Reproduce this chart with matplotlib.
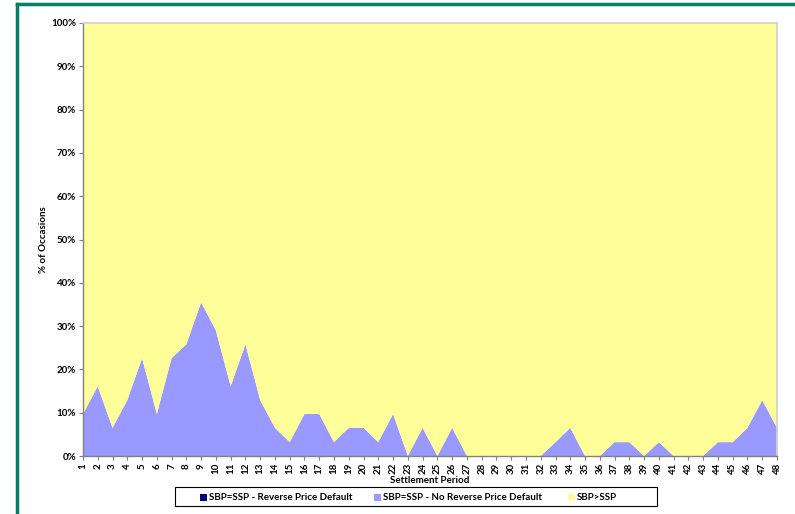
import matplotlib
matplotlib.use("Agg")
import matplotlib.pyplot as plt
from matplotlib.patches import Rectangle
from matplotlib.lines import Line2D
import numpy as np

periods = list(range(1, 49))
# Percentage of occasions per settlement period
reverse_default = [0.0] * 48
no_reverse_default = [
    9.7, 16.1, 6.5, 12.9, 22.6, 9.7, 22.6, 25.8, 35.5, 29.0,
    16.1, 25.8, 12.9, 6.5, 3.2, 9.7, 9.7, 3.2, 6.5, 6.5,
    3.2, 9.7, 0.0, 6.5, 0.0, 6.5, 0.0, 0.0, 0.0, 0.0,
    0.0, 0.0, 3.2, 6.5, 0.0, 0.0, 3.2, 3.2, 0.0, 3.2,
    0.0, 0.0, 0.0, 3.2, 3.2, 6.5, 12.9, 6.5,
]
sbp_gt_ssp = [100.0 - a - b for a, b in zip(reverse_default, no_reverse_default)]

series_names = ["SBP=SSP - Reverse Price Default",
                "SBP=SSP - No Reverse Price Default",
                "SBP>SSP"]
colors = ["#000080", "#9999ff", "#ffff99"]

plt.rcParams['font.family'] = ['Lato', 'DejaVu Sans']

fig = plt.figure(figsize=(7.95, 5.14), dpi=100)
W, H = 795, 514
ax = fig.add_axes([83 / W, 1 - 456 / H, (777 - 83) / W, (456 - 23) / H])

ax.stackplot(periods, reverse_default, no_reverse_default, sbp_gt_ssp,
             colors=colors, linewidth=0)

ax.set_xlim(1, 48)
ax.set_ylim(0, 100)
ax.set_xticks(periods)
ax.set_xticklabels([str(p) for p in periods], rotation=90, fontsize=7, fontweight='bold')
ax.set_yticks(np.arange(0, 101, 10))
ax.set_yticklabels([f"{v}%" for v in range(0, 101, 10)], fontsize=7, fontweight='bold')
ax.tick_params(axis='both', length=3, width=0.8, color='#808080', pad=2)

for side in ['left', 'bottom']:
    ax.spines[side].set_color('#808080')
    ax.spines[side].set_linewidth(1)
for side in ['top', 'right']:
    ax.spines[side].set_color('#d0d0d0')
    ax.spines[side].set_linewidth(1.2)

ax.set_xlabel("Settlement Period", fontsize=7, fontweight='bold', labelpad=1)
ax.set_ylabel("% of Occasions", fontsize=7, fontweight='bold', labelpad=2)

# Legend: boxed strip below the x-axis title
fig.add_artist(Rectangle((175 / W, 1 - 506 / H), (657 - 175) / W, 19 / H,
                         transform=fig.transFigure, facecolor='white',
                         edgecolor='black', linewidth=0.8))
marker_x = [203, 377, 571]
ly = 497
for mx, name, c in zip(marker_x, series_names, colors):
    fig.add_artist(Rectangle(((mx - 3.5) / W, 1 - (ly + 3.5) / H), 7 / W, 7 / H,
                             transform=fig.transFigure, facecolor=c, edgecolor='none'))
    fig.text((mx + 6) / W, 1 - ly / H, name, fontsize=7, fontweight='bold',
             va='center', ha='left')

# Green frame on the left and top edges
fig.add_artist(Line2D([17 / W, 17 / W], [0, 1 - 4 / H], color='#008068', linewidth=2.5,
                      transform=fig.transFigure))
fig.add_artist(Line2D([17 / W, 1], [1 - 4 / H, 1 - 4 / H], color='#008068', linewidth=2.5,
                      transform=fig.transFigure))

fig.savefig("out.png", dpi=100)
